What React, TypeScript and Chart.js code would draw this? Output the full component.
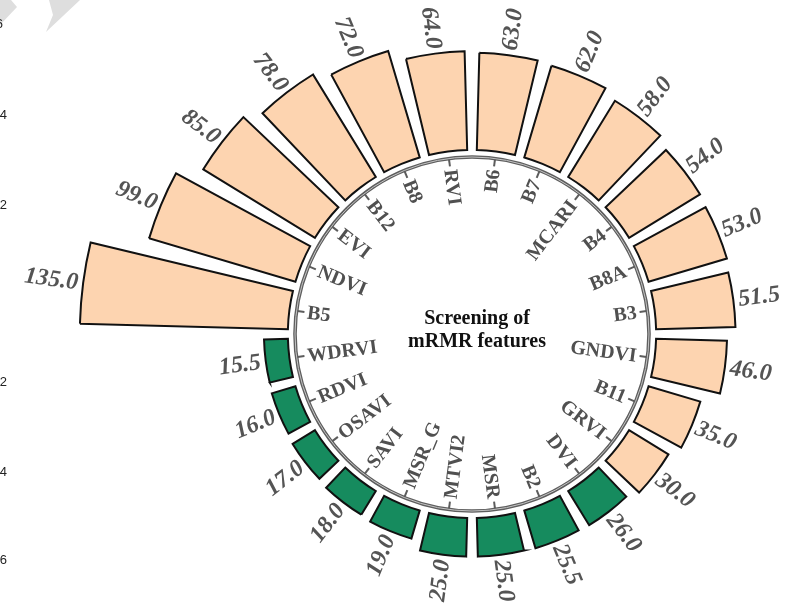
import React, { useEffect, useRef } from 'react';
import { Chart, registerables } from 'chart.js';

Chart.register(...registerables);

// Features in clockwise order, starting just above 9 o'clock
const FEATURES = [
  'B5', 'NDVI', 'EVI', 'B12', 'B8', 'RVI', 'B6', 'B7', 'MCARI', 'B4', 'B8A', 'B3',
  'GNDVI', 'B11', 'GRVI', 'DVI', 'B2', 'MSR', 'MTVI2', 'MSR_G', 'SAVI', 'OSAVI', 'RDVI', 'WDRVI',
];
const SCORES = [
  135.0, 99.0, 85.0, 78.0, 72.0, 64.0, 63.0, 62.0, 58.0, 54.0, 53.0, 51.5,
  46.0, 35.0, 30.0, 26.0, 25.5, 25.0, 25.0, 19.0, 18.0, 17.0, 16.0, 15.5,
];
// Features kept by the mRMR screening
const SELECTED = [
  'B5', 'NDVI', 'EVI', 'B12', 'B8', 'RVI', 'B6', 'B7', 'MCARI', 'B4', 'B8A', 'B3',
  'GNDVI', 'B11', 'GRVI',
];
const TITLE_LINES = ['Screening of', 'mRMR features'];
// Tick digits of the neighbouring panel, cut by the left border
const EDGE_DIGITS = ['6', '4', '2', '2', '4', '6'];

const SELECTED_COLOR = '#FDD4B0';
const OTHER_COLOR = '#168B5E';
const BAR_FILL = 0.8;
const RING_RADIUS = 177;
const EDGE_DIGIT_Y = [24, 115, 205, 382, 472, 560];

const radialBars = {
  id: 'radialBars',
  afterDatasetsUpdate(chart: any) {
    const scale = chart.scales.r;
    const base = scale.getDistanceFromCenterForValue(0);
    chart.getDatasetMeta(0).data.forEach((arc: any) => {
      const mid = (arc.startAngle + arc.endAngle) / 2;
      const half = ((arc.endAngle - arc.startAngle) / 2) * BAR_FILL;
      arc.startAngle = mid - half;
      arc.endAngle = mid + half;
      arc.innerRadius = base;
    });
  },
  afterDatasetsDraw(chart: any) {
    const ctx: CanvasRenderingContext2D = chart.ctx;
    const scale = chart.scales.r;
    const cx = scale.xCenter;
    const cy = scale.yCenter;
    const arcs = chart.getDatasetMeta(0).data;

    ctx.save();
    // inner ring
    ctx.beginPath();
    ctx.arc(cx, cy, RING_RADIUS, 0, Math.PI * 2);
    ctx.lineWidth = 3.6;
    ctx.strokeStyle = '#5e5e5e';
    ctx.stroke();
    ctx.beginPath();
    ctx.arc(cx, cy, RING_RADIUS, 0, Math.PI * 2);
    ctx.lineWidth = 1;
    ctx.strokeStyle = '#c4c4c4';
    ctx.stroke();

    arcs.forEach((arc: any, i: number) => {
      const a = (arc.startAngle + arc.endAngle) / 2;
      const c = Math.cos(a);
      const s = Math.sin(a);
      const right = c >= 0;

      // tick mark
      ctx.beginPath();
      ctx.moveTo(cx + c * (RING_RADIUS - 1), cy + s * (RING_RADIUS - 1));
      ctx.lineTo(cx + c * (RING_RADIUS - 8), cy + s * (RING_RADIUS - 8));
      ctx.lineWidth = 2;
      ctx.strokeStyle = '#5c5c5c';
      ctx.stroke();

      // feature name inside the ring
      ctx.save();
      ctx.translate(cx + c * (RING_RADIUS - 11), cy + s * (RING_RADIUS - 11));
      ctx.rotate(right ? a : a + Math.PI);
      ctx.textAlign = right ? 'right' : 'left';
      ctx.textBaseline = 'middle';
      ctx.font = 'bold 20px "Liberation Serif", "Times New Roman", serif';
      ctx.fillStyle = '#505050';
      ctx.fillText(FEATURES[i], 0, 1);
      ctx.restore();

      // score at the end of the bar
      const r = arc.outerRadius + 5;
      ctx.save();
      ctx.translate(cx + c * r, cy + s * r);
      ctx.rotate(right ? a : a + Math.PI);
      ctx.textAlign = right ? 'left' : 'right';
      ctx.textBaseline = 'middle';
      ctx.font = 'italic bold 24px "Liberation Serif", "Times New Roman", serif';
      ctx.fillStyle = '#545454';
      ctx.fillText(SCORES[i].toFixed(1), 0, 1);
      ctx.restore();
    });

    // centre title
    ctx.font = 'bold 20px "Liberation Serif", "Times New Roman", serif';
    ctx.fillStyle = '#111111';
    ctx.textAlign = 'center';
    ctx.textBaseline = 'middle';
    ctx.fillText(TITLE_LINES[0], cx + 5, cy - 15);
    ctx.fillText(TITLE_LINES[1], cx + 5, cy + 8);
    ctx.restore();
  },
  afterDraw(chart: any) {
    const ctx: CanvasRenderingContext2D = chart.ctx;
    ctx.save();
    // faint shapes at the top-left corner
    ctx.fillStyle = '#dedede';
    ctx.beginPath();
    ctx.moveTo(0, 0);
    ctx.lineTo(11, 0);
    ctx.lineTo(17, 7);
    ctx.lineTo(0, 25);
    ctx.closePath();
    ctx.fill();
    ctx.beginPath();
    ctx.moveTo(49, 0);
    ctx.lineTo(80, 0);
    ctx.lineTo(46, 32);
    ctx.lineTo(53, 15);
    ctx.closePath();
    ctx.fill();
    // clipped digits on the left border
    ctx.font = '13px "Liberation Sans", Arial, sans-serif';
    ctx.fillStyle = '#222222';
    ctx.textAlign = 'right';
    ctx.textBaseline = 'middle';
    EDGE_DIGITS.forEach((d, i) => {
      ctx.fillText(d, i === 0 ? 3 : 7, EDGE_DIGIT_Y[i]);
    });
    ctx.restore();
  },
};

export default function App() {
  const canvasRef = useRef<HTMLCanvasElement | null>(null);

  useEffect(() => {
    const canvas = canvasRef.current;
    if (!canvas) return;
    const chart = new Chart(canvas, {
      type: 'polarArea',
      data: {
        labels: FEATURES,
        datasets: [
          {
            data: SCORES,
            backgroundColor: FEATURES.map((f) => (SELECTED.includes(f) ? SELECTED_COLOR : OTHER_COLOR)),
            borderColor: '#111111',
            borderWidth: 2,
            borderJoinStyle: 'miter',
            clip: false,
          } as any,
        ],
      },
      options: {
        animation: false,
        responsive: true,
        maintainAspectRatio: false,
        events: [],
        layout: { padding: { left: 157, top: 62, right: 0, bottom: 0 } },
        plugins: {
          legend: { display: false },
          tooltip: { enabled: false },
        },
        scales: {
          r: {
            display: false,
            min: -119.5,
            max: 57,
            startAngle: -90,
            ticks: { display: false },
            grid: { display: false },
          },
        },
      } as any,
      plugins: [radialBars],
    });
    return () => chart.destroy();
  }, []);

  return (
    <div style={{ position: 'fixed', left: 0, top: 0, width: 787, height: 606, background: '#ffffff' }}>
      <canvas ref={canvasRef} />
    </div>
  );
}
